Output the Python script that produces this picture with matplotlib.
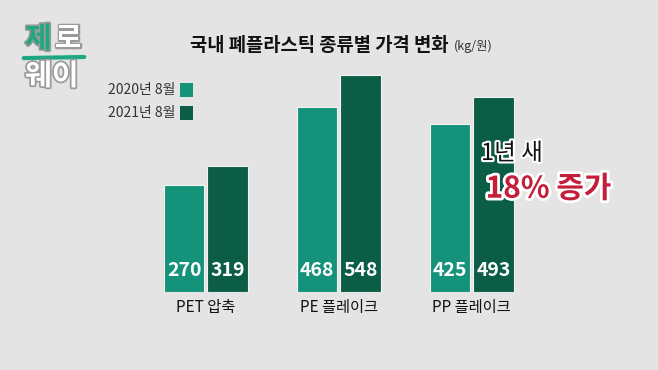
import matplotlib
matplotlib.use('Agg')
import matplotlib.pyplot as plt
import matplotlib.patheffects as pe
import numpy as np

plt.rcParams['font.family'] = ['Noto Sans CJK KR', 'DejaVu Sans']

# data
# ------------------------------------------------------------------
categories = ['PET 압축', 'PE 플레이크', 'PP 플레이크']
series_names = ['2020년 8월', '2021년 8월']
values_2020 = [270, 468, 425]
values_2021 = [319, 548, 493]
title = '국내 폐플라스틱 종류별 가격 변화'
unit = '(kg/원)'

light_green = '#14937a'
dark_green = '#0b5d46'

# figure
# ------------------------------------------------------------------
fig = plt.figure(figsize=(6.58, 3.70), dpi=100)
fig.patch.set_facecolor('#e4e4e4')

ax = fig.add_axes([0.212, 0.2108, 0.606, 0.642])
ax.set_facecolor('none')
x = np.arange(len(categories))
width = 0.305
offset = 0.164
bars_a = ax.bar(x - offset, values_2020, width, color=light_green,
                edgecolor='#f4f4f4', linewidth=0.8)
bars_b = ax.bar(x + offset, values_2021, width, color=dark_green,
                edgecolor='#f4f4f4', linewidth=0.8)
ax.set_xlim(-0.5, 2.5)
ax.set_ylim(0, 600)
ax.axis('off')

for bars, vals in ((bars_a, values_2020), (bars_b, values_2021)):
    for b, v in zip(bars, vals):
        ax.text(b.get_x() + b.get_width() / 2, 55, str(v), color='white',
                fontsize=14, fontweight='bold', ha='center', va='center')

for xi, name in zip(x, categories):
    ax.text(xi, -40, name, fontsize=11, ha='center', va='center',
            color='#111111')

# title
fig.text(0.289, 0.878, title, fontsize=13.5, fontweight='bold',
         ha='left', va='center', color='#111111')
fig.text(0.690, 0.875, unit, fontsize=9, ha='left', va='center',
         color='#333333')

# legend
for i, (name, col) in enumerate(zip(series_names, [light_green, dark_green])):
    yy = 0.757 - i * 0.062
    fig.text(0.267, yy, name, fontsize=10, ha='right', va='center',
             color='#333333', fontweight='light')
    fig.patches.append(plt.Rectangle((0.274, yy - 0.018), 0.02, 0.036,
                                     transform=fig.transFigure,
                                     facecolor=col, edgecolor='none'))

# annotation
stroke = [pe.withStroke(linewidth=3, foreground='white')]
fig.text(0.731, 0.585, '1년 새', fontsize=17, ha='left', va='center',
         color='#111111', path_effects=stroke)
fig.text(0.738, 0.49, '18% 증가', fontsize=21.5, fontweight='bold',
         ha='left', va='center', color='#c41e3a',
         path_effects=[pe.withStroke(linewidth=4, foreground='white')])

# logo
logo_fx = [pe.withStroke(linewidth=2.5, foreground='#9a9a9a')]
fig.text(0.038, 0.895, '제', fontsize=21, fontweight='bold', color='#1ea882',
         ha='left', va='center', path_effects=logo_fx)
fig.text(0.083, 0.895, '로', fontsize=21, fontweight='bold', color='white',
         ha='left', va='center', path_effects=logo_fx)
fig.text(0.038, 0.795, '웨이', fontsize=21, fontweight='bold', color='white',
         ha='left', va='center', path_effects=logo_fx)
fig.lines.append(plt.Line2D([0.036, 0.128], [0.843, 0.846],
                            transform=fig.transFigure, color='#1ea882',
                            linewidth=3, solid_capstyle='round'))

fig.savefig('out.png', dpi=100, facecolor=fig.get_facecolor())
